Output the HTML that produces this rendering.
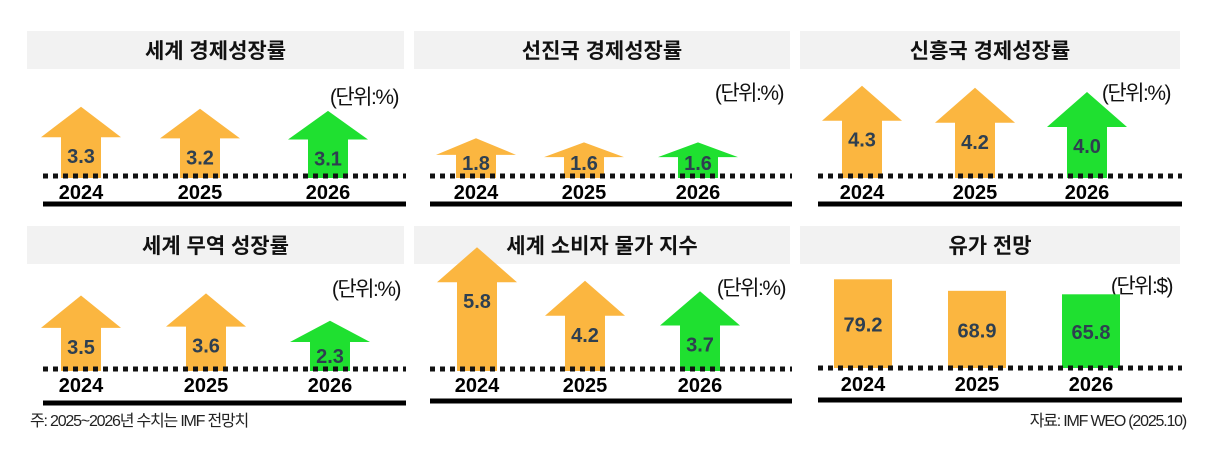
<!DOCTYPE html>
<html><head><meta charset="utf-8"><style>
html,body{margin:0;padding:0;background:#fff;}
svg{display:block;}
text{font-family:"Liberation Sans","Noto Sans CJK KR",sans-serif;}
</style></head><body>
<svg id="c" width="1210" height="461" viewBox="0 0 1210 461" xmlns="http://www.w3.org/2000/svg"></svg>
<script>
const years = ["2024","2025","2026"];
const worldGrowth = [3.3, 3.2, 3.1];
const advancedGrowth = [1.8, 1.6, 1.6];
const emergingGrowth = [4.3, 4.2, 4.0];
const tradeGrowth = [3.5, 3.6, 2.3];
const cpiGrowth = [5.8, 4.2, 3.7];
const oilPrice = [79.2, 68.9, 65.8];
const titles = ["세계 경제성장률","선진국 경제성장률","신흥국 경제성장률","세계 무역 성장률","세계 소비자 물가 지수","유가 전망"];
const units = ["(단위:%)","(단위:%)","(단위:%)","(단위:%)","(단위:%)","(단위:$)"];

const NS="http://www.w3.org/2000/svg";
const svg=document.getElementById('c');
function mk(tag,attrs,parent){const e=document.createElementNS(NS,tag);for(const k in attrs)e.setAttribute(k,attrs[k]);(parent||svg).appendChild(e);return e;}
const ORANGE="#FBB640", GREEN="#1FE030", VAL="#2E3F50";

const panels=[
 {x:27,w:377,hy:31,base:176,solid:204,lineX0:43,cx:[81,200,328],data:worldGrowth,type:'arrow',ux:398,uy:104,name:'world-growth'},
 {x:414,w:376,hy:31,base:176,solid:204,lineX0:430,cx:[476,584,698],data:advancedGrowth,type:'arrow',ux:783,uy:100,name:'advanced-growth'},
 {x:800,w:380,hy:31,base:176,solid:204,lineX0:818,cx:[862,975,1087],data:emergingGrowth,type:'arrow',ux:1170,uy:100,name:'emerging-growth'},
 {x:27,w:377,hy:226,base:369,solid:403,lineX0:43,cx:[81,206,330],data:tradeGrowth,type:'arrow',ux:400,uy:296,name:'trade-growth'},
 {x:414,w:376,hy:226,base:369,solid:401,lineX0:430,cx:[477,585,700],data:cpiGrowth,type:'arrow',ux:785,uy:295,name:'cpi'},
 {x:800,w:380,hy:226,base:368,solid:400,lineX0:818,cx:[863,977,1091],data:oilPrice,type:'bar',ux:1172,uy:293,name:'oil-price'}
];
const K=21, KB=1.12;
panels.forEach((p,i)=>{
  const g=mk('g',{});
  
  
  const hb=mk('rect',{x:p.x,y:p.hy,width:p.w,height:38,fill:'#F2F2F2'},g);
  
  
  const t=mk('text',{x:p.x+p.w/2,y:p.hy+27,'text-anchor':'middle','font-size':21,'font-weight':'bold',fill:'#111'},g);
  t.textContent=titles[i];
  
  
  const u=mk('text',{x:p.ux,y:p.uy,'text-anchor':'end','font-size':21,fill:'#111','letter-spacing':'-1.5'},g);
  u.textContent=units[i];
  
  
  p.data.forEach((v,j)=>{
    const c=p.cx[j], col=j===2?GREEN:ORANGE;
    let mark, ty;
    if(p.type==='arrow'){
      const h=v*K, tip=p.base-h, head=Math.min(35,h*0.44), sb=p.base+2;
      const pts=[[c,tip],[c+40,tip+head],[c+20,tip+head],[c+20,sb],[c-20,sb],[c-20,tip+head],[c-40,tip+head]];
      mark=mk('polygon',{points:pts.map(q=>q.join(',')).join(' '),fill:col},g);
      ty=Math.min(tip+head+26,p.base-6);
    } else {
      const h=v*KB;
      mark=mk('rect',{x:c-29,y:p.base-h,width:58,height:h,fill:col},g);
      ty=p.base-h+h*0.5+8;
    }
    
    
    const vt=mk('text',{x:c,y:ty,'text-anchor':'middle','font-size':20,'font-weight':'bold',fill:VAL},g);
    vt.textContent=v.toFixed(1);
    
    
    const yt=mk('text',{x:c,y:p.base+23,'text-anchor':'middle','font-size':20,'font-weight':'bold',fill:'#000'},g);
    yt.textContent=years[j];
    
    
  });
  const d=mk('line',{x1:p.lineX0,y1:p.base,x2:p.x+p.w+2,y2:p.base,stroke:'#111','stroke-width':5,'stroke-dasharray':'5 5'},g);
  
  
  const s=mk('line',{x1:p.lineX0,y1:p.solid,x2:p.x+p.w+2,y2:p.solid,stroke:'#000','stroke-width':5},g);
  
  
});
const n=mk('text',{x:30,y:426,'font-size':16,fill:'#222','letter-spacing':'-1.2'});
n.textContent="주: 2025~2026년 수치는 IMF 전망치";


const src=mk('text',{x:1186,y:426,'text-anchor':'end','font-size':16,fill:'#222','letter-spacing':'-1.2'});
src.textContent="자료: IMF WEO (2025.10)";


</script>
</body></html>
